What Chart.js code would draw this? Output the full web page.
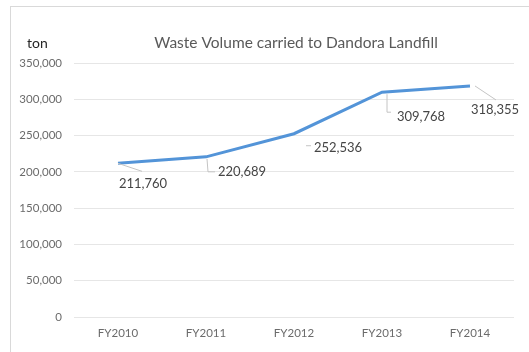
<!DOCTYPE html>
<html>
<head>
<meta charset="utf-8">
<script src="https://cdn.jsdelivr.net/npm/chart.js@4/dist/chart.umd.min.js"></script>
<style>
  html, body { margin: 0; padding: 0; background: #ffffff; }
  #wrap { width: 529px; height: 352px; position: relative; }
</style>
</head>
<body>
<div id="wrap"><canvas id="myChart" width="529" height="352"></canvas></div>
<script>
var years = ["FY2010", "FY2011", "FY2012", "FY2013", "FY2014"];
var tons = [211760, 220689, 252536, 309768, 318355];
var yTicks = [0, 50000, 100000, 150000, 200000, 250000, 300000, 350000];

// where each value label sits relative to its point, and the leader line shape
var labelSpots = [
    { dx: 25, dy: 20, lead: [[0, 0], [24, 8]] },
    { dx: 36, dy: 15, lead: [[1, 2], [2, 15], [9, 15]] },
    { dx: 44, dy: 14, lead: [[12, 12], [17, 12]] },
    { dx: 39, dy: 25, lead: [[5, 2], [5, 20], [9, 20]] },
    { dx: 25, dy: 24, lead: [[5, 0], [26, 14]] },
];

var fmt = function (v) {
    return v.toLocaleString("en-US");
};

var fontFam = "Lato, 'Open Sans', sans-serif";

var framePlugin = {
    id: "frame",
    beforeDraw: function (c) {
        var ctx = c.ctx;
        ctx.save();
        ctx.strokeStyle = "#d9d9d9";
        ctx.lineWidth = 1;
        ctx.strokeRect(10.5, 6.5, 540, 360);
        ctx.fillStyle = "#595959";
        ctx.font = "15.5px " + fontFam;
        ctx.textAlign = "center";
        ctx.textBaseline = "middle";
        ctx.fillText("Waste Volume carried to Dandora Landfill", 296, 43);
        ctx.fillStyle = "#262626";
        ctx.font = "14px " + fontFam;
        ctx.textAlign = "left";
        ctx.fillText("ton", 27, 43);
        ctx.restore();
    },
};

var valueLabels = {
    id: "valueLabels",
    afterDatasetsDraw: function (c) {
        var ctx = c.ctx;
        var meta = c.getDatasetMeta(0);
        ctx.save();
        meta.data.forEach(function (pt, i) {
            var s = labelSpots[i];
            ctx.strokeStyle = "#c4c4c4";
            ctx.lineWidth = 1;
            ctx.beginPath();
            s.lead.forEach(function (p, k) {
                if (k === 0) ctx.moveTo(pt.x + p[0], pt.y + p[1]);
                else ctx.lineTo(pt.x + p[0], pt.y + p[1]);
            });
            ctx.stroke();
            ctx.fillStyle = "#454545";
            ctx.font = "13px " + fontFam;
            ctx.textAlign = "center";
            ctx.textBaseline = "middle";
            ctx.fillText(fmt(c.data.datasets[0].data[i]), pt.x + s.dx, pt.y + s.dy);
        });
        ctx.restore();
    },
};

var myChart = document.getElementById("myChart").getContext("2d");
var chart = new Chart(myChart, {
    type: "line",
    data: {
        labels: years,
        datasets: [
            {
                label: "ton",
                borderColor: "#5394d8",
                backgroundColor: "#5394d8",
                borderWidth: 3,
                pointRadius: 0,
                tension: 0,
                data: tons,
            },
        ],
    },
    options: {
        responsive: false,
        animation: false,
        layout: { padding: { top: 63, right: 15, bottom: 0, left: 0 } },
        plugins: {
            legend: { display: false },
            title: { display: false },
            tooltip: { enabled: false },
        },
        scales: {
            x: {
                offset: true,
                grid: { display: false, drawTicks: false },
                border: { display: false },
                ticks: {
                    color: "#6b6b6b",
                    font: { family: fontFam, size: 11.5 },
                    padding: 9,
                    maxRotation: 0,
                },
                afterFit: function (s) { s.height = 35; },
            },
            y: {
                min: 0,
                max: 350000,
                afterBuildTicks: function (s) {
                    s.ticks = yTicks.map(function (v) { return { value: v }; });
                },
                grid: { color: "#e6e6e6", drawTicks: false },
                border: { display: false },
                ticks: {
                    color: "#6b6b6b",
                    font: { family: fontFam, size: 11.5 },
                    padding: 12,
                    callback: function (v) { return fmt(v); },
                },
                afterFit: function (s) { s.width = 74; },
            },
        },
    },
    plugins: [framePlugin, valueLabels],
});
</script>
</body>
</html>
